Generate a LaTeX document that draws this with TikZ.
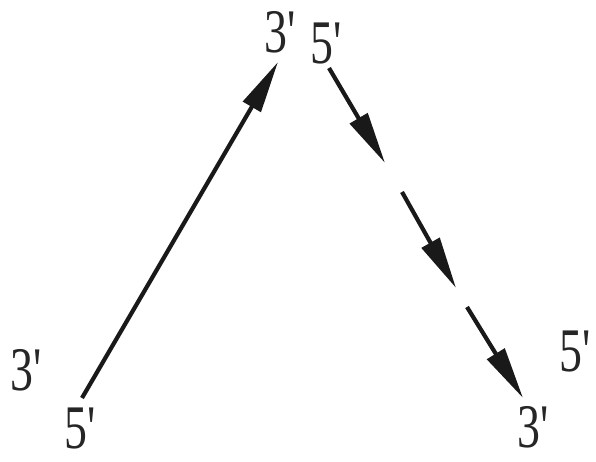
\documentclass[tikz,border=0pt]{standalone}
\usepackage{fontspec}
\setmainfont{Liberation Serif}
\usetikzlibrary{arrows.meta}
\newcommand{\pr}{\textquotesingle}
\begin{document}
\begin{tikzpicture}[x=1pt,y=-1pt,
  lbl/.style={inner sep=0pt,font=\fontsize{62}{66}\selectfont,xscale=0.74,text=black!85},
  strand/.style={line width=4.2pt,draw=black!90},
  arr/.style={strand,-{Triangle[length=52pt,width=20pt]}}]
\useasboundingbox (0,0) rectangle (596,462);
% labels
\node[lbl] (t3) at (280,32) {3\pr};
\node[lbl] (t5) at (326,44) {5\pr};
\node[lbl] (l3) at (26,370) {3\pr};
\node[lbl] (l5) at (80,428) {5\pr};
\node[lbl] (r5) at (575,352) {5\pr};
\node[lbl] (r3) at (533,427) {3\pr};
% strand end points
\coordinate (a0) at (82,398);
\coordinate (a1) at (278,62);
\coordinate (b0) at (329,68);
\coordinate (b1) at (385,163);
\coordinate (c0) at (402,192);
\coordinate (c1) at (456,288);
\coordinate (d0) at (467,307);
\coordinate (d1) at (523,398);
\draw[arr] (a0) -- (a1);
\draw[arr] (b0) -- (b1);
\draw[arr] (c0) -- (c1);
\draw[arr] (d0) -- (d1);
\end{tikzpicture}
\end{document}
